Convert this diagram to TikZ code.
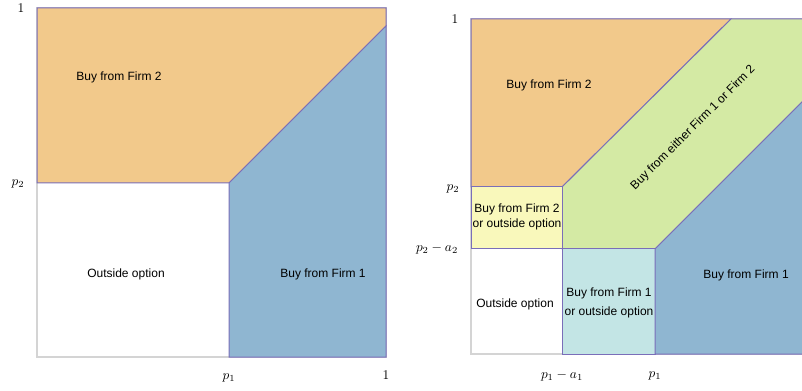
\documentclass[tikz,border=0pt]{standalone}
\usepackage{fontspec}
\setsansfont{Liberation Sans}
\usepackage{tikz}
\usetikzlibrary{positioning}
\definecolor{firmtwo}{RGB}{242,201,139}
\definecolor{firmone}{RGB}{143,182,209}
\definecolor{either}{RGB}{212,234,164}
\definecolor{twoout}{RGB}{249,248,187}
\definecolor{oneout}{RGB}{195,229,229}
\definecolor{edgepurple}{RGB}{122,110,185}
\definecolor{axisgray}{RGB}{212,212,212}
\tikzstyle{region} = [draw=edgepurple, line width=0.75pt]
\tikzstyle{frame} = [draw=axisgray, line width=1.1pt]
\tikzstyle{regionlabel} = [font=\sffamily\fontsize{9}{11.5}\selectfont, align=center, inner sep=1pt]
\tikzstyle{axislabel} = [font=\fontsize{10}{12}\selectfont, inner sep=1pt]

\begin{document}
\begin{tikzpicture}[x=0.75pt, y=-0.75pt]
  \useasboundingbox (0,0) rectangle (802,391);

  % left panel: no advertising
  \draw[frame] (37,8) rectangle (386,357);
  \filldraw[region, fill=firmtwo] (37,8) -- (386,8) -- (386,26) -- (229,183) -- (37,183) -- cycle;
  \filldraw[region, fill=firmone] (229,183) -- (386,26) -- (386,357) -- (229,357) -- cycle;

  \node[regionlabel] (lfirm2) at (119,77) {Buy from Firm 2};
  \node[regionlabel] (lout) at (126,274) {Outside option};
  \node[regionlabel] (lfirm1) at (323,274) {Buy from Firm 1};

  \node[axislabel] (lone) at (21,8) {$1$};
  \node[axislabel] (lp2) at (18,184) {$p_2$};
  \node[axislabel] (lp1) at (229,378) {$p_1$};
  \node[axislabel] (lonex) at (386,375) {$1$};

  % right panel: with advertising
  \draw[frame] (471,19) rectangle (806,354);
  \filldraw[region, fill=firmtwo] (471,19) -- (731,19) -- (562,187) -- (471,187) -- cycle;
  \filldraw[region, fill=either] (562,187) -- (731,19) -- (806,19) -- (806,98) -- (655,249) -- (562,249) -- cycle;
  \filldraw[region, fill=twoout] (471,187) rectangle (562,249);
  \filldraw[region, fill=oneout] (562,249) rectangle (655,354);
  \filldraw[region, fill=firmone] (655,249) -- (806,98) -- (806,354) -- (655,354) -- cycle;

  \node[regionlabel] (rfirm2) at (549,85) {Buy from Firm 2};
  \node[regionlabel] (rtwoout) at (517,217) {Buy from Firm 2\\or outside option};
  \node[regionlabel] (rout) at (515,304) {Outside option};
  \node[regionlabel, font=\sffamily\fontsize{9}{14}\selectfont] (roneout) at (609,303) {Buy from Firm 1\\or outside option};
  \node[regionlabel] (rfirm1) at (746,275) {Buy from Firm 1};
  \node[regionlabel, rotate=45] (reither) at (693,128) {Buy from either Firm 1 or Firm 2};

  \node[axislabel] (rone) at (455,19) {$1$};
  \node[axislabel] (rp2) at (453,189) {$p_2$};
  \node[axislabel] (rp2a) at (437,249) {$p_2-a_2$};
  \node[axislabel] (rp1a) at (562,376) {$p_1-a_1$};
  \node[axislabel] (rp1) at (655,376) {$p_1$};
\end{tikzpicture}
\end{document}
